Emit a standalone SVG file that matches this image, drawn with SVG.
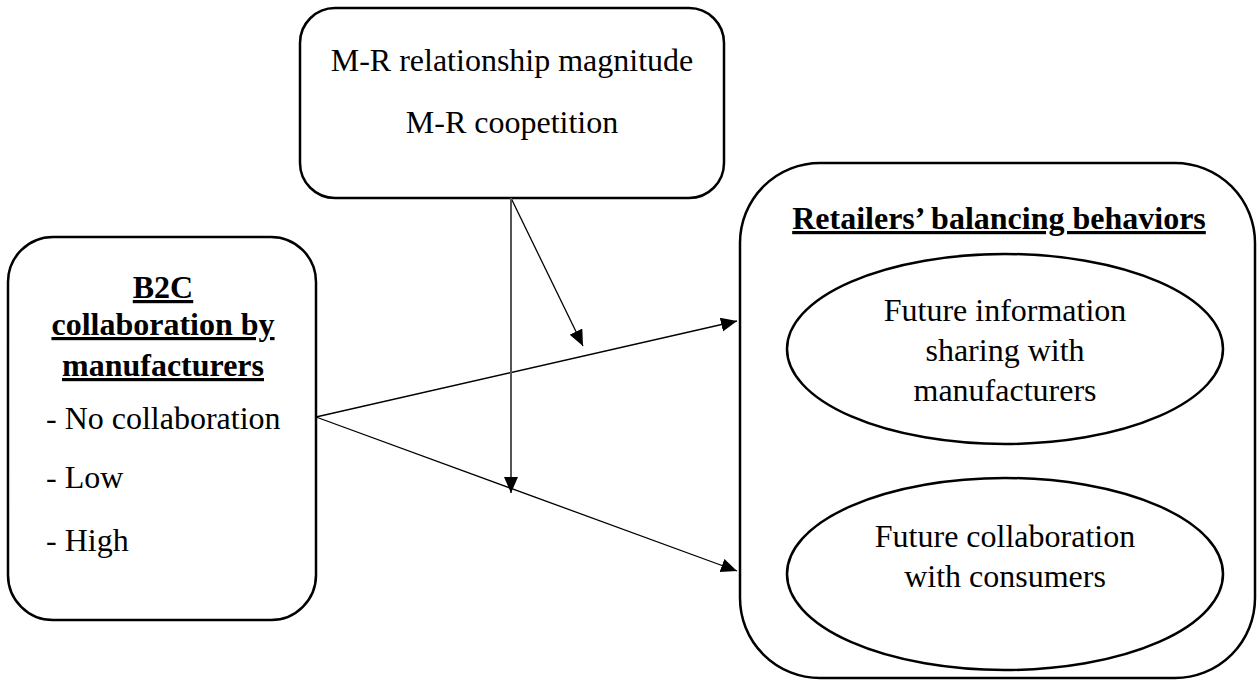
<svg xmlns="http://www.w3.org/2000/svg" width="1257" height="681" viewBox="0 0 1257 681">
  <style>
    .box { fill: #fff; stroke: #000; stroke-width: 2.5; }
    .oval { fill: #fff; stroke: #000; stroke-width: 2.5; }
    .t { font-family: "Liberation Serif", "Times New Roman", serif; font-size: 32px; fill: #000; }
    .c { text-anchor: middle; }
    .h { font-weight: bold; text-decoration: underline; }
    .link { stroke: #000; stroke-width: 1.3; fill: none; marker-end: url(#arrow); }
    .stem { stroke: #555; stroke-width: 2; fill: none; marker-end: url(#arrow); }
  </style>
  <defs>
    <marker id="arrow" markerUnits="userSpaceOnUse" markerWidth="17" markerHeight="15" refX="16" refY="7" orient="auto">
      <path d="M0,0 L16,7 L0,14 Z" fill="#000"/>
    </marker>
  </defs>
  <rect width="1257" height="681" fill="#fff"/>

  <!-- moderators -->
  <g id="moderators">
    <rect class="box" x="300" y="8" width="424" height="190" rx="35" ry="35"/>
    <text class="t c" x="512" y="71">M-R relationship magnitude</text>
    <text class="t c" x="512" y="133">M-R coopetition</text>
  </g>

  <!-- independent variable -->
  <g id="b2c">
    <rect class="box" x="8" y="237" width="308" height="383" rx="45" ry="45"/>
    <text class="t c h" x="163" y="298">B2C</text>
    <text class="t c h" x="163" y="335">collaboration by</text>
    <text class="t c h" x="163" y="376">manufacturers</text>
    <text class="t" x="46" y="429">- No collaboration</text>
    <text class="t" x="46" y="488">- Low</text>
    <text class="t" x="46" y="551">- High</text>
  </g>

  <!-- outcomes -->
  <g id="balancing">
    <rect class="box" x="740" y="163" width="515" height="515" rx="80" ry="80"/>
    <text class="t c h" x="999" y="229">Retailers’ balancing behaviors</text>
  </g>
  <g id="info-sharing">
    <ellipse class="oval" cx="1005" cy="349" rx="218" ry="95"/>
    <text class="t c" x="1005" y="321">Future information</text>
    <text class="t c" x="1005" y="361">sharing with</text>
    <text class="t c" x="1005" y="401">manufacturers</text>
  </g>
  <g id="consumer-collab">
    <ellipse class="oval" cx="1005" cy="574" rx="218" ry="96"/>
    <text class="t c" x="1005" y="547">Future collaboration</text>
    <text class="t c" x="1005" y="587">with consumers</text>
  </g>

  <!-- connectors -->
  <g id="connectors">
    <line class="link" x1="316" y1="417" x2="737" y2="321"/>
    <line class="link" x1="316" y1="417" x2="737" y2="571"/>
    <line class="link" x1="511" y1="198" x2="583" y2="346"/>
    <line class="stem" x1="511" y1="198" x2="511" y2="493"/>
  </g>
</svg>
